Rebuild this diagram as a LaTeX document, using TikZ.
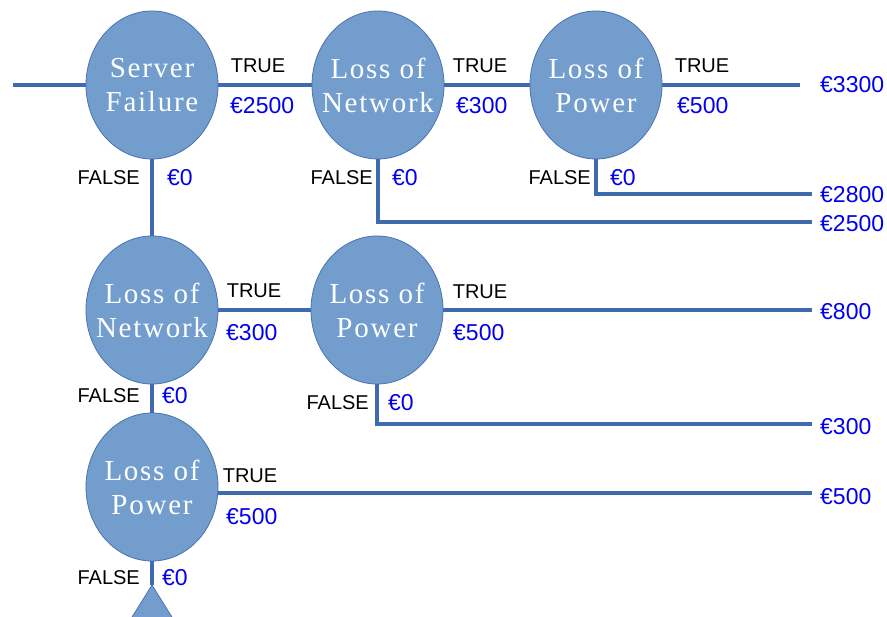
\documentclass[tikz,border=0pt]{standalone}
\usepackage{fontspec}
\setmainfont{Liberation Sans}
\newfontfamily\eventfont[LetterSpace=6]{Liberation Serif}
\usetikzlibrary{shapes.geometric,backgrounds}

\definecolor{branchcol}{RGB}{62,106,175}
\definecolor{chancefill}{RGB}{114,157,205}
\definecolor{chanceedge}{RGB}{74,114,176}
\definecolor{payoffcol}{RGB}{0,0,238}

% two centred lines of zero width, so the ellipse keeps its size
\newcommand{\evtext}[2]{\makebox[0pt]{#1}\\\makebox[0pt]{#2}}

\tikzset{
  event/.style={ellipse, fill=chancefill, draw=chanceedge, line width=0.8pt,
    minimum width=132pt, minimum height=148pt, inner sep=0pt, text=white,
    font=\eventfont\fontsize{29}{34}\selectfont, align=center},
  branch/.style={draw=branchcol, line width=3.5pt, line join=miter},
  outcome/.style={font=\fontsize{20}{24}\selectfont, inner sep=0pt},
  falselbl/.style={outcome, anchor=east},
  money/.style={font=\fontsize{23}{26}\selectfont, text=payoffcol, inner sep=0pt, anchor=west},
  moreshape/.style={fill=chancefill, draw=chanceedge, line width=0.8pt},
}

\begin{document}
\begin{tikzpicture}[x=1pt, y=-1pt]
  \clip (0,0) rectangle (887,617);

  % chance events
  \node[event] (sf) at (152,85) {\evtext{Server}{Failure}};
  \node[event] (n1) at (378,85) {\evtext{Loss of}{Network}};
  \node[event] (p1) at (596,85) {\evtext{Loss of}{Power}};
  \node[event] (n2) at (152,310) {\evtext{Loss of}{Network}};
  \node[event] (p2) at (377,310) {\evtext{Loss of}{Power}};
  \node[event] (p3) at (152,487) {\evtext{Loss of}{Power}};

  % branch end points
  \coordinate (start) at (13,85);
  \coordinate (e1) at (800,85);
  \coordinate (e2) at (812,194);
  \coordinate (e3) at (812,222);
  \coordinate (e4) at (812,310);
  \coordinate (e5) at (812,424);
  \coordinate (p3r) at (152,493);
  \coordinate (e6) at (812,493);
  \coordinate (more) at (152,585);

  % branches behind the events
  \begin{scope}[on background layer]
    \draw[branch] (start) -- (e1);
    \draw[branch] (n1.center) |- (e3);
    \draw[branch] (p1.center) |- (e2);
    \draw[branch] (sf.center) -- (n2.center) -- (p3.center) -- (more);
    \draw[branch] (n2.center) -- (e4);
    \draw[branch] (p2.center) |- (e5);
    \draw[branch] (p3r) -- (e6);
  \end{scope}

  % continuation marker
  \fill[moreshape] (more) -- (180,630) -- (124,630) -- cycle;

  % outcome labels
  \node[outcome] (t1) at (258,66) {TRUE};
  \node[outcome] (t2) at (480,66) {TRUE};
  \node[outcome] (t3) at (702,66) {TRUE};
  \node[outcome] (t4) at (254,291) {TRUE};
  \node[outcome] (t5) at (480,292) {TRUE};
  \node[outcome] (t6) at (250,476) {TRUE};

  \node[falselbl] (f1) at (140,178) {FALSE};
  \node[falselbl] (f2) at (373,178) {FALSE};
  \node[falselbl] (f3) at (591,178) {FALSE};
  \node[falselbl] (f4) at (140,396) {FALSE};
  \node[falselbl] (f5) at (369,403) {FALSE};
  \node[falselbl] (f6) at (140,578) {FALSE};

  % branch values
  \node[money] (z1) at (167,178) {€0};
  \node[money] (z2) at (392,178) {€0};
  \node[money] (z3) at (610,178) {€0};
  \node[money] (z4) at (162,396) {€0};
  \node[money] (z5) at (388,403) {€0};
  \node[money] (z6) at (162,578) {€0};

  \node[money] (v1) at (230,106) {€2500};
  \node[money] (v2) at (456,106) {€300};
  \node[money] (v3) at (677,106) {€500};
  \node[money] (v4) at (226,333) {€300};
  \node[money] (v5) at (453,333) {€500};
  \node[money] (v6) at (226,517) {€500};

  % totals at the end of each path
  \node[money] (r1) at (820,85) {€3300};
  \node[money] (r2) at (820,195) {€2800};
  \node[money] (r3) at (820,224) {€2500};
  \node[money] (r4) at (820,312) {€800};
  \node[money] (r5) at (820,427) {€300};
  \node[money] (r6) at (820,497) {€500};
\end{tikzpicture}
\end{document}
